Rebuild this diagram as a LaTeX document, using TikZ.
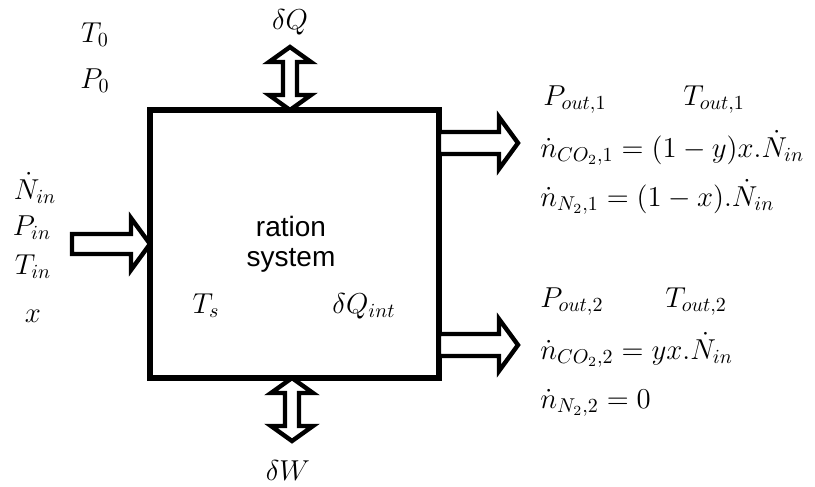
\documentclass[tikz,border=0pt]{standalone}
\usepackage{fontspec}
\setsansfont{Liberation Sans}
\usetikzlibrary{positioning}

\begin{document}
\begin{tikzpicture}[
  x=0.5pt, y=-0.5pt,
  font=\fontsize{14.5}{16}\selectfont,
  sysbox/.style={draw, line width=3pt, minimum width=144.5pt, minimum height=134pt,
                 inner sep=0pt, outer sep=0pt},
  flow/.style={draw, line width=2.2pt, fill=white, line join=miter},
  lbl/.style={anchor=base, inner sep=0pt},
  eqn/.style={anchor=base west, inner sep=0pt}
]
  \useasboundingbox (0,0) rectangle (815,487);

  \node[sysbox] (sys) at (294.5,244) {};
  \node[font=\fontsize{14}{15}\selectfont\sffamily, align=center] (name) at (291,244) {ration\\system};

  \coordinate (qtip) at ([xshift=-2.25pt]sys.north);
  \coordinate (wtip) at ([xshift=-1.25pt]sys.south);
  \coordinate (out1) at ([yshift=50.5pt]sys.east);
  \coordinate (out2) at ([yshift=-50.5pt]sys.east);

  % inlet
  \draw[flow] (sys.west) -- ++(-19,-26) -- ++(0,16) -- ++(-59,0) -- ++(0,20)
        -- ++(59,0) -- ++(0,16) -- cycle;
  % outlets
  \draw[flow] (out1) ++(0,-11) -- ++(60,0) -- ++(0,-15) -- ++(19,26) -- ++(-19,26)
        -- ++(0,-15) -- ++(-60,0) -- cycle;
  \draw[flow] (out2) ++(0,-11) -- ++(60,0) -- ++(0,-15) -- ++(19,26) -- ++(-19,26)
        -- ++(0,-15) -- ++(-60,0) -- cycle;
  % heat and work
  \draw[flow] (qtip) -- ++(21,-15) -- ++(-14,0) -- ++(0,-33) -- ++(14,0) -- ++(-21,-15)
        -- ++(-21,15) -- ++(14,0) -- ++(0,33) -- ++(-14,0) -- cycle;
  \draw[flow] (wtip) -- ++(21,15) -- ++(-14,0) -- ++(0,33) -- ++(14,0) -- ++(-21,15)
        -- ++(-21,-15) -- ++(14,0) -- ++(0,-33) -- ++(-14,0) -- cycle;

  \node[lbl] (dq) at (290,30) {$\delta Q$};
  \node[lbl] (dw) at (288,480) {$\delta W$};
  \node[lbl] (t0) at (95,42) {$T_0$};
  \node[lbl] (p0) at (95,88) {$P_0$};

  \node[lbl] (nin) at (35,199) {$\dot N_{in}$};
  \node[lbl] (pin) at (32,235) {$P_{in}$};
  \node[lbl] (tin) at (33,274) {$T_{in}$};
  \node[lbl] (xin) at (33,322) {$x$};

  \node[lbl] (ts) at (206,313) {$T_s$};
  \node[lbl] (qint) at (364,313) {$\delta Q_{int}$};

  \node[eqn] (pout1) at (543,105) {$P_{out,1}$};
  \node[eqn] (tout1) at (683,105) {$T_{out,1}$};
  \node[eqn] (nco1) at (540,157) {$\dot n_{CO_2,1} = (1-y)x.\dot N_{in}$};
  \node[eqn] (nn1) at (540,206) {$\dot n_{N_2,1} = (1-x).\dot N_{in}$};

  \node[eqn] (pout2) at (540,307) {$P_{out,2}$};
  \node[eqn] (tout2) at (665,307) {$T_{out,2}$};
  \node[eqn] (nco2) at (540,359) {$\dot n_{CO_2,2} = yx.\dot N_{in}$};
  \node[eqn] (nn2) at (540,408) {$\dot n_{N_2,2} = 0$};
\end{tikzpicture}
\end{document}
